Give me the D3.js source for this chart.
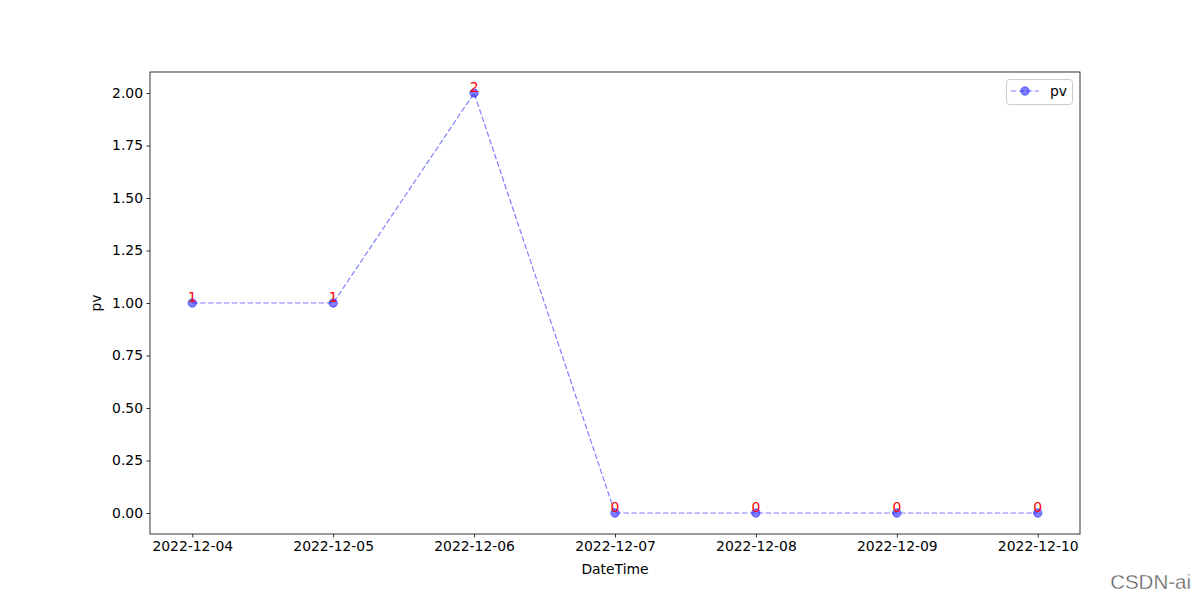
<!DOCTYPE html>
<html><head><meta charset="utf-8">
<script src="https://cdn.jsdelivr.net/npm/d3@7"></script>
<style>body{margin:0;background:#fff;} text{font-family:"DejaVu Sans",sans-serif;}</style>
</head><body>
<svg id="c" width="1200" height="600"></svg>
<script>
const dates = ["2022-12-04","2022-12-05","2022-12-06","2022-12-07","2022-12-08","2022-12-09","2022-12-10"];
const pv = [1, 1, 2, 0, 0, 0, 0];
const yTicks = [0, 0.25, 0.5, 0.75, 1.0, 1.25, 1.5, 1.75, 2.0];

const svg = d3.select("#c");
const L = 150, R = 1080, T = 72, B = 534;
const parse = d3.utcParse("%Y-%m-%d");
const xd = dates.map(parse);
const DAY = 86400000;
const x = d3.scaleUtc().domain([new Date(+xd[0] - 0.3*DAY), new Date(+xd[xd.length-1] + 0.3*DAY)]).range([L, R]);
const y = d3.scaleLinear().domain([-0.1, 2.1]).range([B, T]);

const xAxis = d3.axisBottom(x).tickValues(xd).tickFormat(d3.utcFormat("%Y-%m-%d")).tickSize(3.5).tickPadding(3.5);
const gx = svg.append("g").attr("transform", `translate(0,${B})`).call(xAxis);
const yAxis = d3.axisLeft(y).tickValues(yTicks).tickFormat(d3.format(".2f")).tickSize(3.5).tickPadding(3.5);
const gy = svg.append("g").attr("transform", `translate(${L},0)`).call(yAxis);
[gx, gy].forEach(g => {
  g.select(".domain").remove();
  g.selectAll("text").attr("font-size", 13.9).attr("fill", "#000").style("font-family", "DejaVu Sans");
  g.selectAll("line").attr("stroke", "#000").attr("stroke-width", 0.8);
});

svg.append("rect").attr("x", L).attr("y", T).attr("width", R-L).attr("height", B-T)
  .attr("fill", "none").attr("stroke", "#000").attr("stroke-width", 0.8);

const line = d3.line().x((d,i) => x(xd[i])).y(d => y(d));
svg.append("path").datum(pv).attr("d", line).attr("fill", "none")
  .attr("stroke", "blue").attr("stroke-opacity", 0.5).attr("stroke-width", 1.2)
  .attr("stroke-dasharray", "5.5,2.4");

svg.selectAll("circle.pt").data(pv).enter().append("circle")
  .attr("cx", (d,i) => x(xd[i])).attr("cy", d => y(d)).attr("r", 4.2)
  .attr("fill", "blue").attr("fill-opacity", 0.5)
  .attr("stroke", "blue").attr("stroke-opacity", 0.5).attr("stroke-width", 1);

svg.selectAll("text.lab").data(pv).enter().append("text")
  .attr("x", (d,i) => x(xd[i])).attr("y", d => y(d) - 1)
  .attr("text-anchor", "middle").attr("font-size", 13.9).attr("fill", "red")
  .text(d => d);

svg.append("text").attr("x", (L+R)/2).attr("y", 574).attr("text-anchor", "middle")
  .attr("font-size", 13.9).text("DateTime");
svg.append("text").attr("transform", `translate(101,${(T+B)/2}) rotate(-90)`).attr("text-anchor", "middle")
  .attr("font-size", 13.9).text("pv");

// legend
const lg = svg.append("g");
lg.append("rect").attr("x", 1006.5).attr("y", 79.5).attr("width", 66).attr("height", 25).attr("rx", 3)
  .attr("fill", "#fff").attr("fill-opacity", 0.8).attr("stroke", "#ccc").attr("stroke-width", 1);
lg.append("line").attr("x1", 1011).attr("x2", 1039).attr("y1", 91).attr("y2", 91)
  .attr("stroke", "blue").attr("stroke-opacity", 0.5).attr("stroke-width", 1.2).attr("stroke-dasharray", "5.5,2.4");
lg.append("circle").attr("cx", 1025).attr("cy", 91).attr("r", 4.2)
  .attr("fill", "blue").attr("fill-opacity", 0.5).attr("stroke", "blue").attr("stroke-opacity", 0.5);
lg.append("text").attr("x", 1050).attr("y", 96).attr("font-size", 13.9).text("pv");

svg.append("text").attr("x", 1191).attr("y", 589).attr("text-anchor", "end")
  .attr("font-size", 20.5).attr("fill", "#555").attr("stroke", "#fff").attr("stroke-width", 0.4)
  .style("font-family", "Liberation Sans").text("CSDN-ai");
</script>
</body></html>
